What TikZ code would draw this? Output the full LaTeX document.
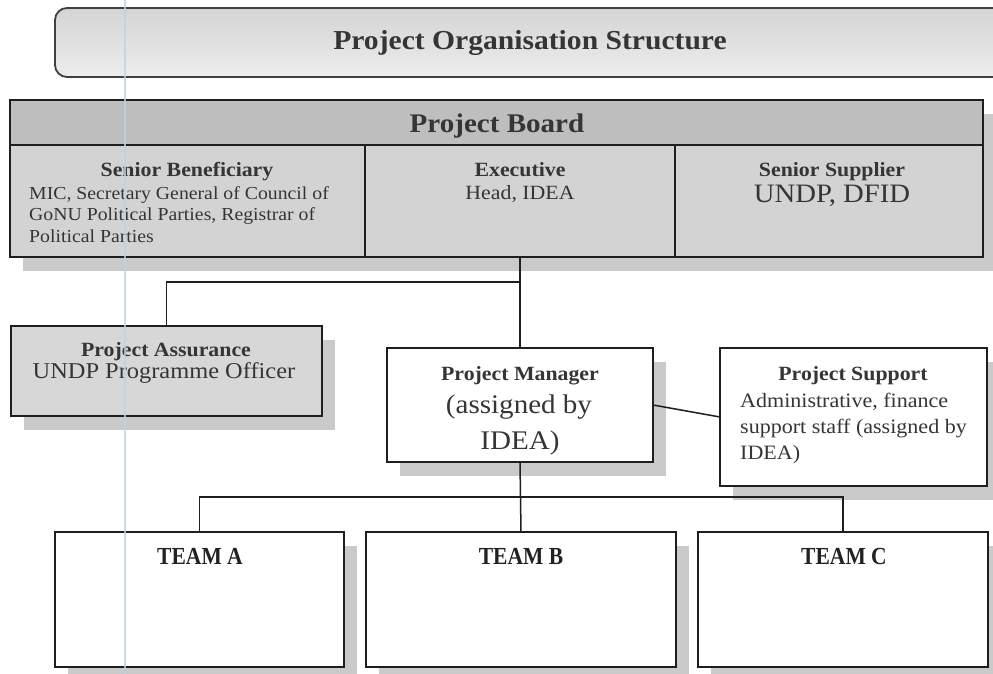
\documentclass[tikz,border=0pt]{standalone}
\usepackage{fontspec}
\setmainfont{Liberation Serif}[FakeStretch=1.08]
\newfontfamily\teamfont{Liberation Serif}[FakeStretch=0.88]
\usetikzlibrary{shadows}

\definecolor{inkgray}{HTML}{353535}
\definecolor{teamink}{HTML}{222222}
\definecolor{edge}{HTML}{1E1E1E}
\definecolor{headfill}{HTML}{BEBEBE}
\definecolor{cellfill}{HTML}{D3D3D3}
\definecolor{assfill}{HTML}{D7D7D7}
\definecolor{shade}{HTML}{CACACA}
\definecolor{titletop}{HTML}{D4D4D4}
\definecolor{titlebot}{HTML}{EDEDED}
\definecolor{marginblue}{HTML}{B8D4EE}

\newcommand\fsz[2]{\fontsize{#1}{#2}\selectfont}

\tikzset{
  box/.style={draw=edge, line width=1.6pt, inner sep=0pt, outer sep=0pt, anchor=north west},
  shadowed/.style={drop shadow={shadow xshift=13pt, shadow yshift=-14pt, opacity=1, fill=shade}},
  headtxt/.style={font=\bfseries\fsz{20.2}{24}, text=inkgray, anchor=base, inner sep=0pt},
  bodytxt/.style={font=\fsz{18.3}{21.5}, text=inkgray, anchor=base west, inner sep=0pt},
  supporttxt/.style={font=\fsz{20.4}{26}, text=inkgray, anchor=base west, inner sep=0pt},
  teamtxt/.style={font=\teamfont\bfseries\fsz{24.5}{28}, text=teamink, anchor=base, inner sep=0pt},
  link/.style={draw=edge, line width=1.5pt},
}

\begin{document}
\begin{tikzpicture}[x=1pt,y=-1pt]
  \useasboundingbox (0,0) rectangle (993,674);
  \fill[white] (0,0) rectangle (993,674);
  \clip (0,0) rectangle (993,674);

  % heading banner
  \node[box, draw=edge!85, line width=1.8pt, rounded corners=12pt,
        top color=titletop, bottom color=titlebot,
        minimum width=970pt, minimum height=69pt] (titlebox) at (55,8) {};
  \node[font=\bfseries\fsz{27.4}{30}, text=inkgray, anchor=base, inner sep=0pt]
        (title) at (530,50) {Project Organisation Structure};

  % project board table
  \node[box, fill=cellfill, shadowed, minimum width=973pt, minimum height=157pt] (board) at (10,100) {};
  \node[box, fill=headfill, minimum width=973pt, minimum height=45pt] (boardhead) at (10,100) {};
  \node[box, minimum width=355pt, minimum height=112pt] (ben)  at (10,145) {};
  \node[box, minimum width=310pt, minimum height=112pt] (exec) at (365,145) {};
  \node[box, minimum width=308pt, minimum height=112pt] (supl) at (675,145) {};

  \node[font=\bfseries\fsz{26.9}{30}, text=inkgray, anchor=base, inner sep=0pt]
        (boardtitle) at (497,132) {Project Board};

  \node[headtxt] (benhead) at (187,176) {Senior Beneficiary};
  \node[bodytxt] (ben1) at (29,199)   {MIC, Secretary General of Council of};
  \node[bodytxt] (ben2) at (29,220.5) {GoNU Political Parties, Registrar of};
  \node[bodytxt] (ben3) at (29,242)   {Political Parties};

  \node[headtxt] (exechead) at (520,176) {Executive};
  \node[font=\fsz{20.2}{24}, text=inkgray, anchor=base, inner sep=0pt] (exec1) at (520,199.5) {Head, IDEA};

  \node[headtxt] (suplhead) at (832,176) {Senior Supplier};
  \node[font=\fsz{26.6}{32}, text=inkgray, anchor=base, inner sep=0pt] (supl1) at (832,202) {UNDP, DFID};

  % project assurance
  \node[box, fill=assfill, shadowed, minimum width=311pt, minimum height=90pt] (asr) at (11,326) {};
  \node[headtxt] (asrhead) at (166,356) {Project Assurance};
  \node[font=\fsz{22.6}{26}, text=inkgray, anchor=base, inner sep=0pt] (asr1) at (164,378.5) {UNDP Programme Officer};

  % project manager
  \node[box, fill=white, shadowed, minimum width=266pt, minimum height=114pt] (mgr) at (387,348) {};
  \node[headtxt] (mgrhead) at (520,380.5) {Project Manager};
  \node[font=\fsz{26.9}{34}, text=inkgray, anchor=base, inner sep=0pt] (mgr1) at (519,413) {(assigned by};
  \node[font=\fsz{26.9}{34}, text=inkgray, anchor=base, inner sep=0pt] (mgr2) at (520,449) {IDEA)};

  % project support
  \node[box, fill=white, shadowed, minimum width=267pt, minimum height=138pt] (spt) at (720,348) {};
  \node[headtxt] (spthead) at (853,380.5) {Project Support};
  \node[supporttxt] (spt1) at (740,407) {Administrative, finance};
  \node[supporttxt] (spt2) at (740,433) {support staff (assigned by};
  \node[supporttxt] (spt3) at (740,459) {IDEA)};

  % teams
  \node[box, fill=white, shadowed, minimum width=289pt, minimum height=135pt] (teamA) at (55,532) {};
  \node[box, fill=white, shadowed, minimum width=310pt, minimum height=135pt] (teamB) at (366,532) {};
  \node[box, fill=white, shadowed, minimum width=290pt, minimum height=135pt] (teamC) at (698,532) {};
  \node[teamtxt] (teamAlbl) at (200,564) {TEAM A};
  \node[teamtxt] (teamBlbl) at (521,564) {TEAM B};
  \node[teamtxt] (teamClbl) at (844,564) {TEAM C};

  % reporting lines
  \coordinate (boardjoin) at (520,282);
  \coordinate (teambus) at (520,497);
  \draw[link] (exec.south) -- (mgr.north);
  \draw[link] (asr.north) |- (boardjoin);
  \draw[link] (mgr.east) -- (spt.west);
  \draw[link] (mgr.south) -- (teamB.north);
  \draw[link] (teamA.north) |- (teambus) -| (teamC.north);

  % ruled margin line of the page
  \draw[marginblue, line width=1.2pt, opacity=0.8] (125,0) -- (125,674);
\end{tikzpicture}
\end{document}
